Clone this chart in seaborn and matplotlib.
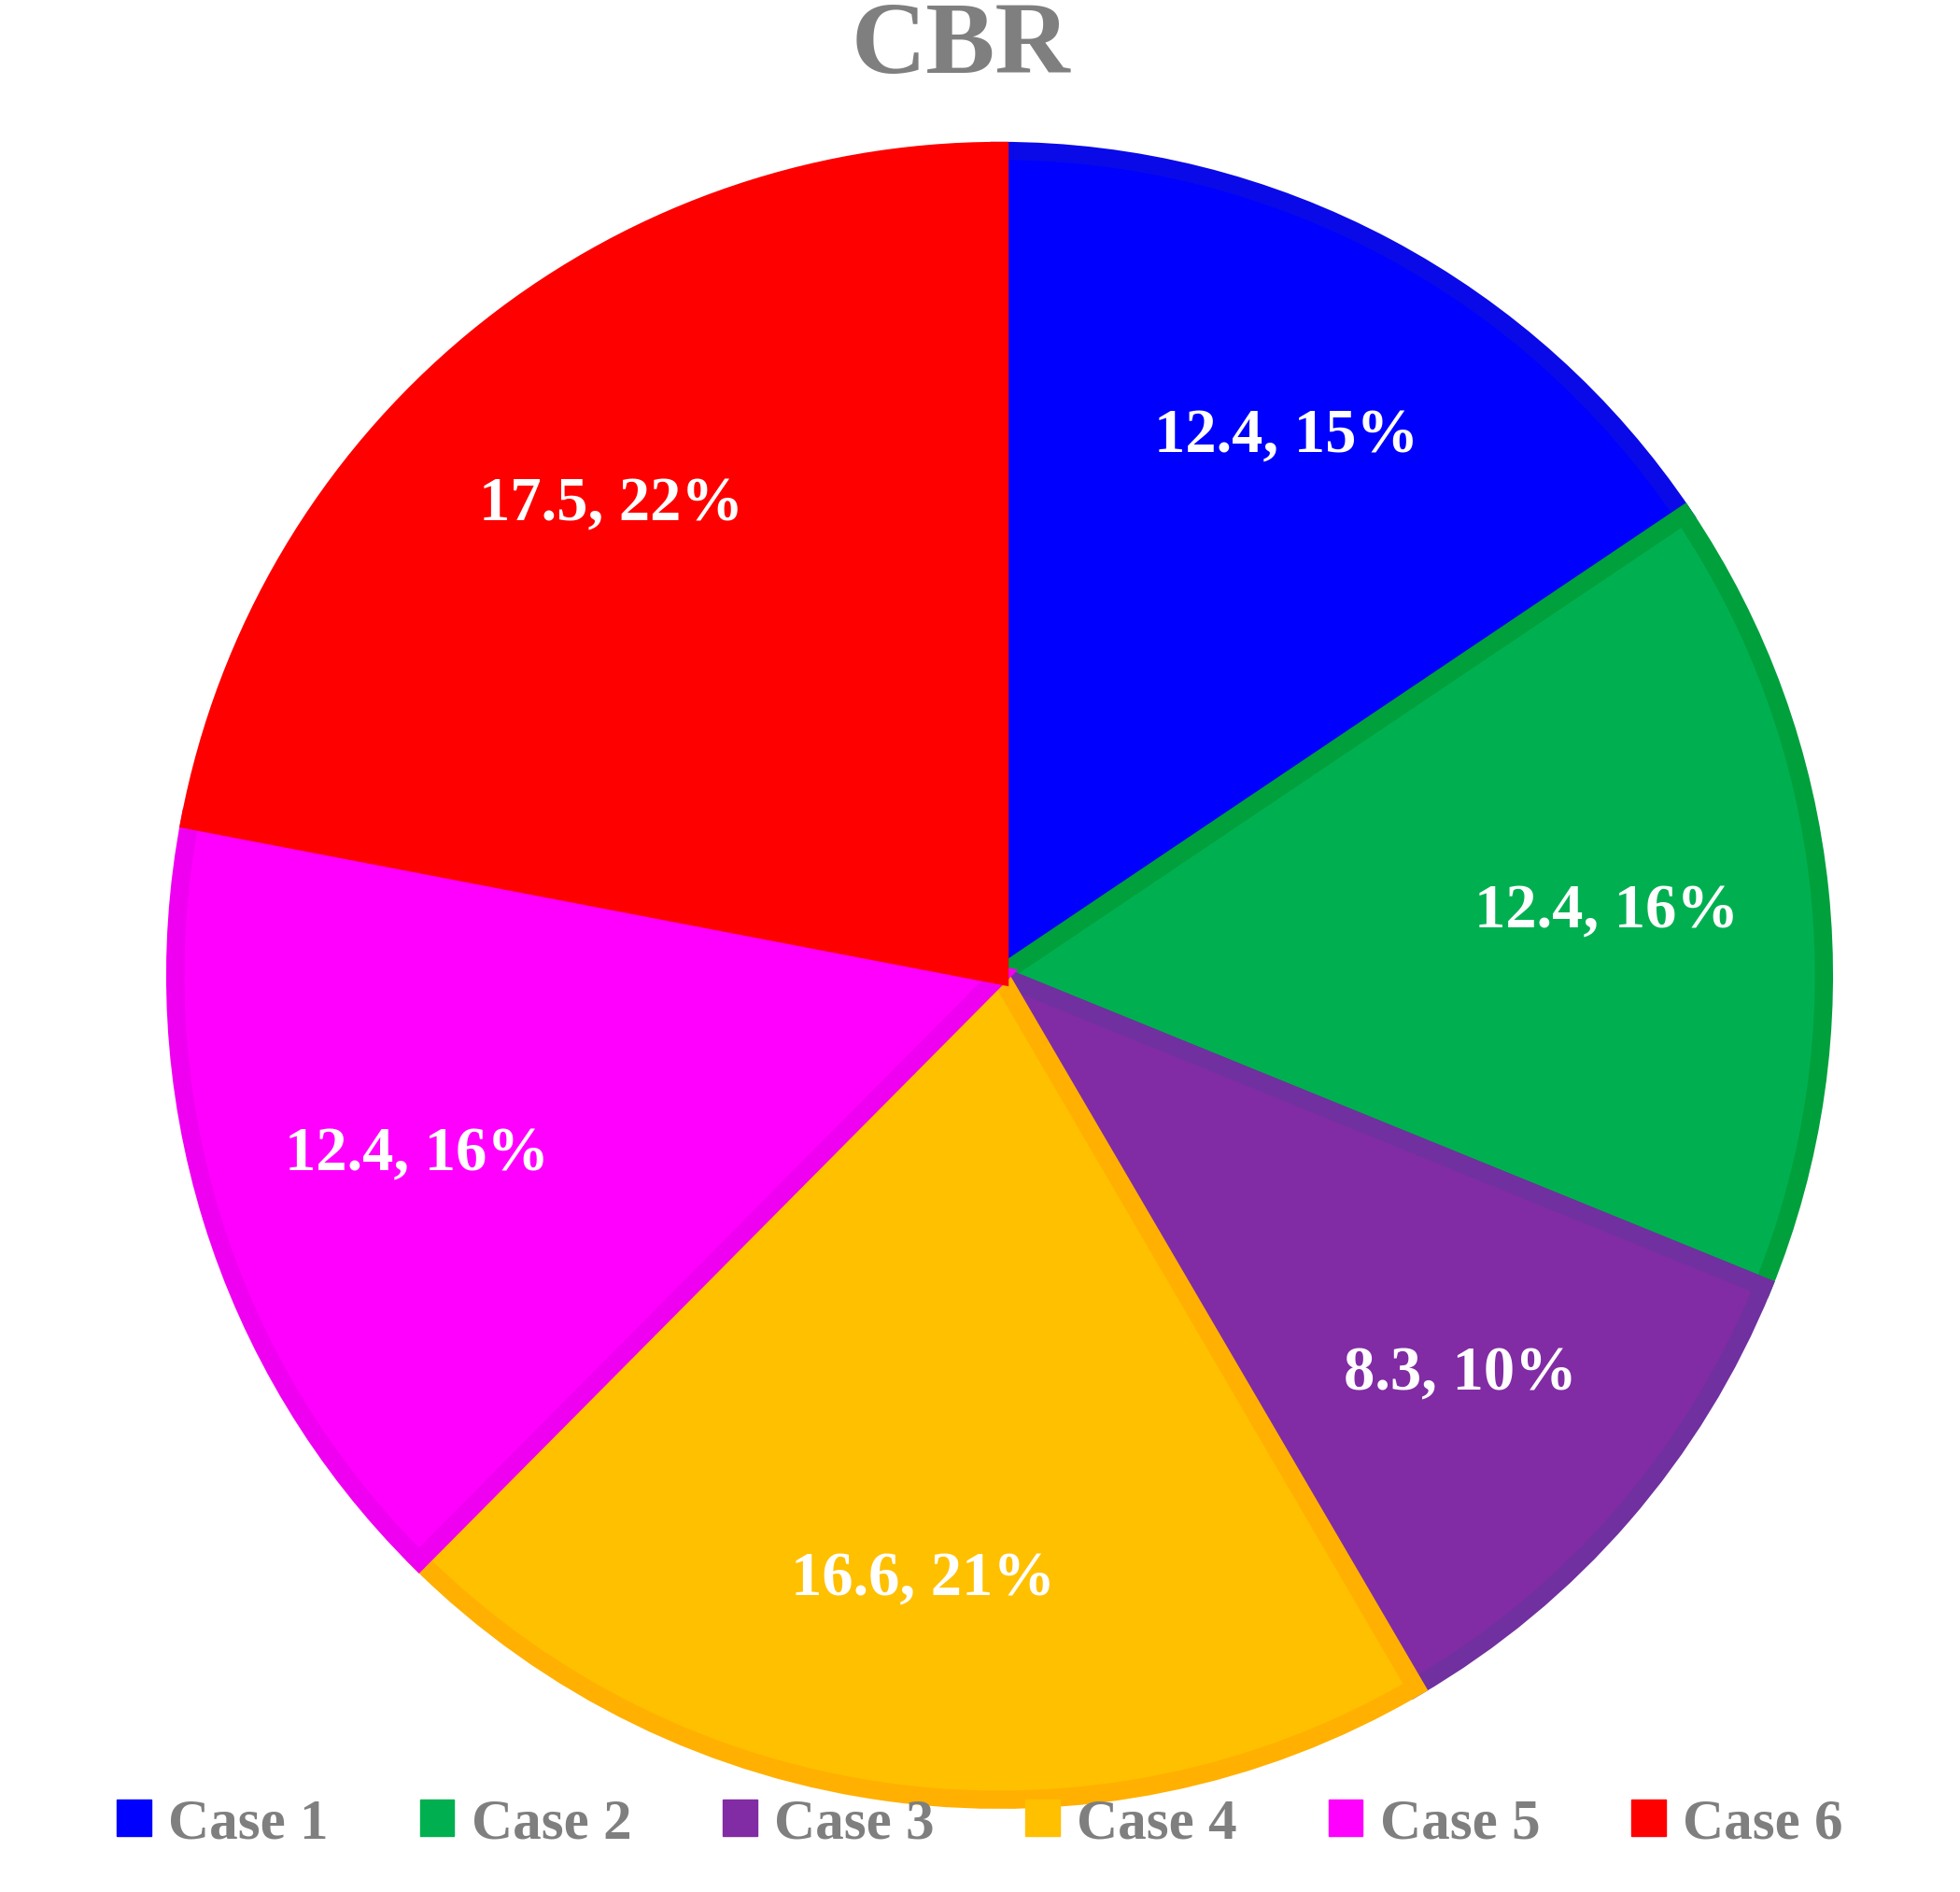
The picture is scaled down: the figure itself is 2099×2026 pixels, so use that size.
import matplotlib
matplotlib.use("Agg")
import matplotlib.pyplot as plt
import seaborn as sns
import numpy as np
from matplotlib.patches import Patch

cases = ['Case 1', 'Case 2', 'Case 3', 'Case 4', 'Case 5', 'Case 6']
values = [12.4, 12.4, 8.3, 16.6, 12.4, 17.5]
percents = [15, 16, 10, 21, 16, 22]
fills = ['#0000FF', '#00B050', '#812CA4', '#FFC000', '#FF00FF', '#FF0000']
edges = ['#0A0AE8', '#00A03C', '#7030A0', '#FFB000', '#F000F0', '#FF0000']

sns.set_theme(style='white')
plt.rcParams['font.family'] = ['Liberation Serif', 'DejaVu Serif']
plt.rcParams['font.weight'] = 'bold'

fig = plt.figure(figsize=(20.99, 20.26), dpi=100)
ax = fig.add_axes([0.081, 0.04, 0.858, 0.889])

wedges, _ = ax.pie(values, colors=fills, startangle=90, counterclock=False,
                   wedgeprops=dict(linewidth=0))
# darker inner outline, drawn slightly inset
for w, ec in zip(wedges, edges):
    w.set_edgecolor(ec)
    w.set_linewidth(14)
    w.set_joinstyle('miter')

for w, v, p in zip(wedges, values, percents):
    ang = np.deg2rad((w.theta1 + w.theta2) / 2)
    r = 0.74
    ax.text(r * np.cos(ang), r * np.sin(ang), f'{v}, {p}%', ha='center', va='center',
            color='white', fontsize=48, fontweight='bold')

ax.set_aspect('equal')
ax.set_xlim(-1.02, 1.02)
ax.set_ylim(-1.02, 1.02)
ax.axis('off')

fig.text(0.49, 0.975, 'CBR', ha='center', va='center', color='#7F7F7F',
         fontsize=80, fontweight='bold')

handles = [Patch(facecolor=c, edgecolor=c) for c in fills]
leg = fig.legend(handles, cases, loc='lower center', bbox_to_anchor=(0.5, -0.005),
                 ncol=6, frameon=False, fontsize=44, handlelength=0.6, handleheight=0.6,
                 handletextpad=0.3, columnspacing=1.6)
for t in leg.get_texts():
    t.set_color('#7F7F7F')
    t.set_fontweight('bold')

fig.savefig('out.png', dpi=100)
